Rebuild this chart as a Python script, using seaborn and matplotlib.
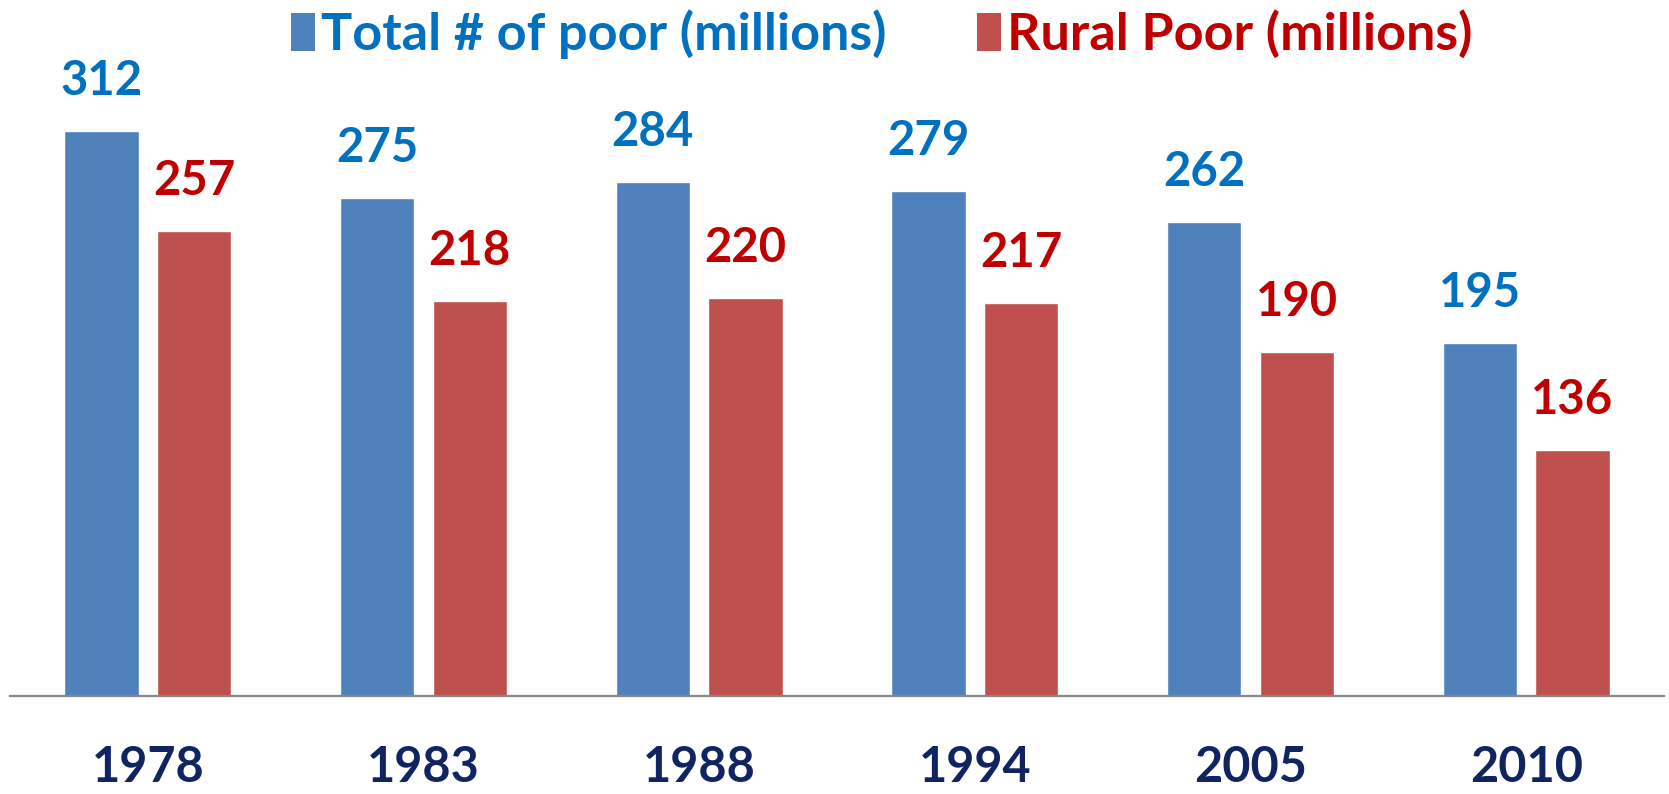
import matplotlib
matplotlib.use("Agg")
import matplotlib.pyplot as plt
import matplotlib.patches as mpatches
import seaborn as sns
import pandas as pd

years = ["1978", "1983", "1988", "1994", "2005", "2010"]
total_poor = [312, 275, 284, 279, 262, 195]
rural_poor = [257, 218, 220, 217, 190, 136]
series_names = ["Total # of poor (millions)", "Rural Poor (millions)"]

bar_colors = ["#4F81BD", "#C0504D"]
text_colors = ["#0070C0", "#C00000"]
year_color = "#0F2461"

sns.set_theme(style="white")
plt.rcParams["font.family"] = ["Lato", "DejaVu Sans"]
plt.rcParams["font.weight"] = "bold"

df = pd.DataFrame({
    "year": years * 2,
    "value": total_poor + rural_poor,
    "series": [series_names[0]] * len(years) + [series_names[1]] * len(years),
})

W, H = 1669, 794
fig = plt.figure(figsize=(W / 100, H / 100), dpi=100)
ax = fig.add_axes([10 / W, (H - 696) / H, 1654 / W, 696 / H])

sns.barplot(data=df, x="year", y="value", hue="series", palette=bar_colors,
            width=0.672, gap=0.2, saturation=1, legend=False, ax=ax)

ax.set_xlim(-0.5, len(years) - 0.5)
ax.set_ylim(0, 384.5)
ax.set_xlabel("")
ax.set_ylabel("")
ax.set_yticks([])
for side in ["top", "right", "left"]:
    ax.spines[side].set_visible(False)
ax.spines["bottom"].set_color("#868686")
ax.spines["bottom"].set_linewidth(1.6)
ax.tick_params(axis="x", length=0, pad=35, labelsize=35, labelcolor=year_color)
for lbl in ax.get_xticklabels():
    lbl.set_fontweight("bold")

# value labels above each bar
for container, color in zip(ax.containers, text_colors):
    for patch in container:
        h = patch.get_height()
        ax.annotate(f"{h:.0f}", (patch.get_x() + patch.get_width() / 2, h),
                    xytext=(0, 26), textcoords="offset points",
                    ha="center", va="baseline", fontsize=34,
                    fontweight="bold", color=color)

handles = [mpatches.Rectangle((0, 0), 1, 1, facecolor=c, edgecolor="none")
           for c in bar_colors]
leg = fig.legend(handles, series_names, loc="upper left",
                 bbox_to_anchor=(286 / W, 1.0 - 4 / H), ncol=2, frameon=False,
                 prop={"size": 37.5, "weight": "bold"},
                 handlelength=0.45, handleheight=0.75, handletextpad=0.12,
                 columnspacing=1.75, borderpad=0.0, borderaxespad=0.1)
for txt, c in zip(leg.get_texts(), text_colors):
    txt.set_color(c)

fig.savefig("out.png", dpi=100)
